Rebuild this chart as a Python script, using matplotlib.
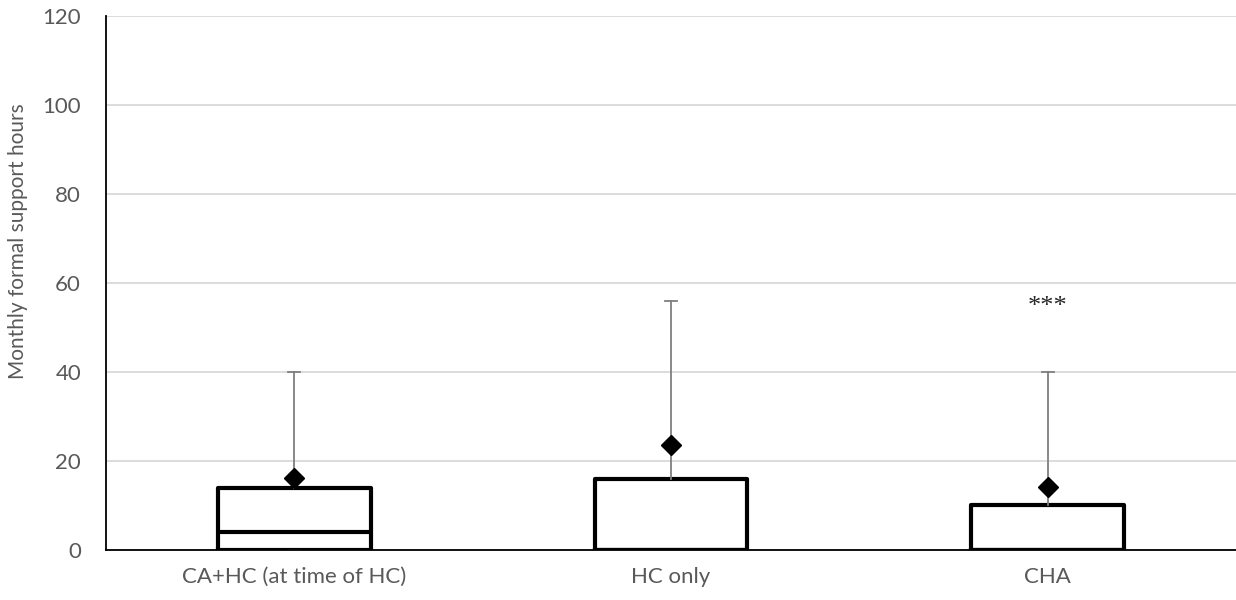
import matplotlib
matplotlib.use("Agg")
import matplotlib.pyplot as plt

categories = ["CA+HC (at time of HC)", "HC only", "CHA"]
q1 = [0, 0, 0]
medians = [4, 0, 0]
q3 = [14, 16, 10.2]
whisker_lo = [0, 0, 0]
whisker_hi = [40, 56, 40]
means = [16.2, 23.5, 14.1]
sig_labels = ["", "", "***"]
sig_y = [0, 0, 54.5]

plt.rcParams['font.family'] = ['Lato', 'DejaVu Sans']

fig = plt.figure(figsize=(12.36, 6), dpi=100)
ax = fig.add_axes([0.0858, 0.0833, 0.9142, 0.89])

stats = []
for i, name in enumerate(categories):
    stats.append({
        "label": name, "q1": q1[i], "med": medians[i], "q3": q3[i],
        "whislo": whisker_lo[i], "whishi": whisker_hi[i], "mean": means[i],
        "fliers": [],
    })

ax.bxp(stats, positions=range(len(categories)), widths=0.406,
       showmeans=True, showfliers=False, capwidths=0.032,
       boxprops=dict(color="black", linewidth=3),
       medianprops=dict(color="black", linewidth=3),
       whiskerprops=dict(color="#7f7f7f", linewidth=1.3),
       capprops=dict(color="#7f7f7f", linewidth=1.3),
       meanprops=dict(marker="D", markerfacecolor="black", markeredgecolor="black",
                      markersize=10.5, zorder=5))

for i, lab in enumerate(sig_labels):
    if lab:
        ax.text(i, sig_y[i], lab, ha="center", va="center", fontsize=19,
                family="Liberation Serif", color="#262626")

ax.set_xlim(-0.5, 2.5)
ax.set_ylim(0, 120)
ax.set_yticks(range(0, 121, 20))
ax.yaxis.grid(True, color="#d9d9d9", linewidth=1.3)
ax.set_axisbelow(True)
for s in ["top", "right"]:
    ax.spines[s].set_visible(False)
ax.spines["left"].set_linewidth(1.3)
ax.spines["bottom"].set_linewidth(1.3)
ax.tick_params(axis="both", length=0, labelsize=16, colors="#595959")
ax.tick_params(axis="x", pad=12)
ax.tick_params(axis="y", pad=18)
fig.text(18 / 1236, 1 - 241 / 600, "Monthly formal support hours", rotation=90,
         ha="center", va="center", fontsize=15, color="#595959")

fig.savefig("out.png", dpi=100)
